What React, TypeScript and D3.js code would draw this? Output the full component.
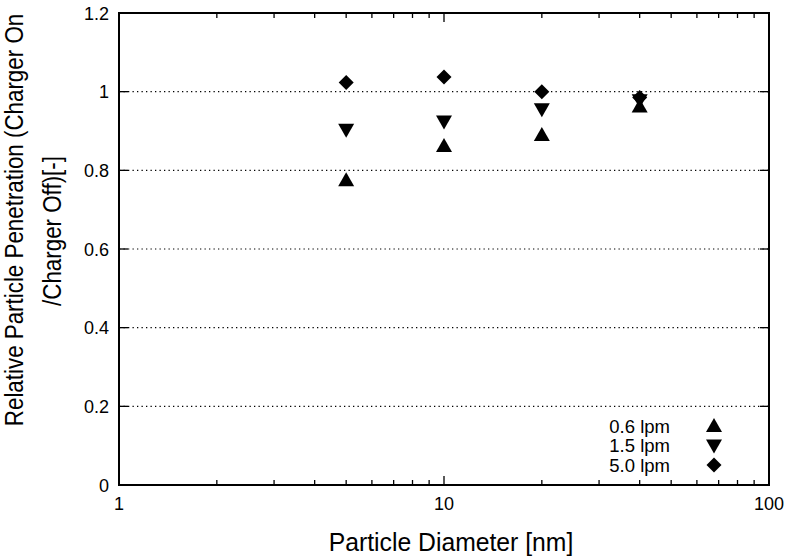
import React from 'react';
import * as d3 from 'd3';

const diameters = [5, 10, 20, 40];
const lpm06 = [0.775, 0.862, 0.89, 0.962];
const lpm15 = [0.903, 0.924, 0.955, 0.978];
const lpm50 = [1.023, 1.037, 1.0, 0.985];
const seriesNames = ['0.6 lpm', '1.5 lpm', '5.0 lpm'];
const yTicks = [0, 0.2, 0.4, 0.6, 0.8, 1, 1.2];
const xMajor = [1, 10, 100];

const W = 787;
const H = 559;
const m = { left: 119, right: 18, top: 13, bottom: 74 };

function Marker({ kind, x, y }: { kind: number; x: number; y: number }) {
    if (kind === 0) {
        return <path d={`M${x},${y - 8}L${x + 8},${y + 6}L${x - 8},${y + 6}Z`} fill="#000" />;
    }
    if (kind === 1) {
        return <path d={`M${x},${y + 8}L${x + 8},${y - 6}L${x - 8},${y - 6}Z`} fill="#000" />;
    }
    return <path d={`M${x},${y - 7.5}L${x + 7.5},${y}L${x},${y + 7.5}L${x - 7.5},${y}Z`} fill="#000" />;
}

export default function App() {
    const x = d3.scaleLog().domain([1, 100]).range([m.left, W - m.right]);
    const y = d3.scaleLinear().domain([0, 1.2]).range([H - m.bottom, m.top]);
    const [x0, x1] = x.range();
    const [y0, y1] = y.range();

    // minor ticks 2..9 in each decade
    const minor: number[] = [];
    [1, 10].forEach(d => { for (let k = 2; k <= 9; k++) minor.push(d * k); });

    const series = [lpm06, lpm15, lpm50];
    const font = 'Liberation Sans, Arial, Helvetica, sans-serif';

    return (
        <svg width={W} height={H} style={{ position: 'absolute', left: 0, top: 0, background: '#fff' }} fontFamily={font}>
            {/* grid */}
            {yTicks.filter(t => t > 0 && t < 1.2).map(t => (
                <line key={'g' + t} x1={x0} x2={x1} y1={y(t)} y2={y(t)} stroke="#000" strokeWidth={1.2} strokeDasharray="1.3,3.2" />
            ))}
            {/* x ticks */}
            {minor.map(t => (
                <g key={'mn' + t}>
                    <line x1={x(t)} x2={x(t)} y1={y0} y2={y0 - 5} stroke="#000" strokeWidth={1.3} />
                    <line x1={x(t)} x2={x(t)} y1={y1} y2={y1 + 5} stroke="#000" strokeWidth={1.3} />
                </g>
            ))}
            {xMajor.map(t => (
                <g key={'mj' + t}>
                    <line x1={x(t)} x2={x(t)} y1={y0} y2={y0 - 9} stroke="#000" strokeWidth={1.3} />
                    <line x1={x(t)} x2={x(t)} y1={y1} y2={y1 + 9} stroke="#000" strokeWidth={1.3} />
                    <text x={x(t)} y={y0 + 25} textAnchor="middle" fontSize={18}>{t}</text>
                </g>
            ))}
            {/* y ticks */}
            {yTicks.map(t => (
                <g key={'y' + t}>
                    <line x1={x0} x2={x0 + 9} y1={y(t)} y2={y(t)} stroke="#000" strokeWidth={1.3} />
                    <line x1={x1} x2={x1 - 9} y1={y(t)} y2={y(t)} stroke="#000" strokeWidth={1.3} />
                    <text x={x0 - 10} y={y(t) + 6.5} textAnchor="end" fontSize={18}>{t}</text>
                </g>
            ))}
            <rect x={x0} y={y1} width={x1 - x0} height={y0 - y1} fill="none" stroke="#000" strokeWidth={2} />
            {/* points */}
            {series.map((vals, si) => vals.map((v, i) => (
                <Marker key={si + '-' + i} kind={si} x={x(diameters[i])} y={y(v)} />
            )))}
            {/* legend */}
            {seriesNames.map((name, i) => (
                <g key={name}>
                    <text x={670} y={426 + i * 19.5 + 6.5} textAnchor="end" fontSize={18.5}>{name}</text>
                    <Marker kind={i} x={714} y={426 + i * 19.5} />
                </g>
            ))}
            {/* axis titles */}
            <text transform="translate(451,551) scale(0.97,1)" textAnchor="middle" fontSize={25.5}>Particle Diameter [nm]</text>
            <text transform="translate(23,220) rotate(-90) scale(0.86,1)" textAnchor="middle" fontSize={26}>Relative Particle Penetration (Charger On</text>
            <text transform="translate(61,231) rotate(-90) scale(0.86,1)" textAnchor="middle" fontSize={26}>/Charger Off)[-]</text>
        </svg>
    );
}
